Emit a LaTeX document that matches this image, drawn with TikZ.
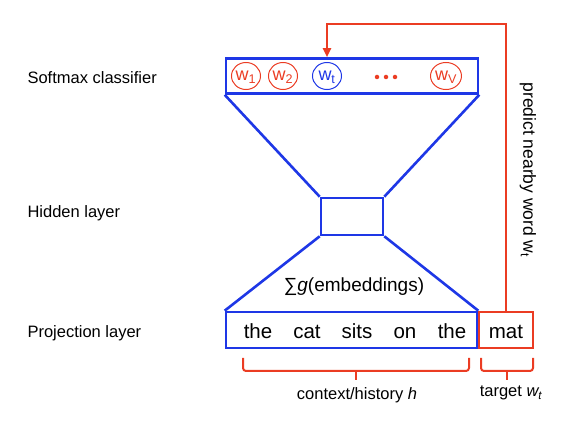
\documentclass[tikz,border=0pt]{standalone}
\usepackage{fontspec}
\setmainfont{Liberation Sans}
\usetikzlibrary{arrows.meta,shapes.geometric}
\definecolor{netblue}{RGB}{30,55,230}
\definecolor{netred}{RGB}{235,60,35}
\newcommand{\wsub}[1]{w\smash{\textsubscript{#1}}}
\tikzset{
	layerbox/.style={draw=netblue, line width=2.6pt, rectangle, inner sep=0pt},
	wordnode/.style={ellipse, draw, line width=1pt, inner sep=0pt, minimum width=25pt, minimum height=27pt, font=\fontsize{18}{20}\selectfont},
	dotnode/.style={circle, fill=netred, inner sep=0pt, minimum size=4.5pt},
	redline/.style={draw=netred, line width=2pt},
	layerlabel/.style={anchor=west, font=\fontsize{16.5}{19}\selectfont}
}
\begin{document}
\begin{tikzpicture}[x=1pt, y=-1pt]
	\useasboundingbox (0,0) rectangle (566,425);

	% layer names
	\node[layerlabel] (softlabel) at (24,78) {Softmax classifier};
	\node[layerlabel] (hidlabel) at (24,213) {Hidden layer};
	\node[layerlabel] (projlabel) at (24,333) {Projection layer};

	% boxes
	\node[layerbox, minimum width=252pt, minimum height=35pt] (soft) at (352,76) {};
	\node[layerbox, minimum width=62pt, minimum height=37pt] (hid) at (352,216.5) {};
	\node[layerbox, minimum width=251pt, minimum height=36pt] (proj) at (351.5,330) {};
	\node[redline, rectangle, minimum width=54pt, minimum height=36pt, inner sep=0pt] (mat) at (506,330) {};

	\draw[netblue, line width=2.6pt] (soft.south west) -- (hid.north west);
	\draw[netblue, line width=2.6pt] (soft.south east) -- (hid.north east);
	\draw[netblue, line width=2.6pt] (hid.south west) -- (proj.north west);
	\draw[netblue, line width=2.6pt] (hid.south east) -- (proj.north east);

	% output words
	\node[wordnode, netred] (w1) at (246,76) {\wsub{1}};
	\node[wordnode, netred] (w2) at (283,76) {\wsub{2}};
	\node[wordnode, netblue, minimum width=29pt] (wt) at (327,76) {\wsub{t}};
	\foreach \xpos/\name in {377/dot1, 386/dot2, 395/dot3}
		\node[dotnode] (\name) at (\xpos,77) {};
	\node[wordnode, netred, minimum width=29pt] (wv) at (446,76) {\wsub{V}};

	% input words
	\foreach \word/\xpos/\name in {the/258/in1, cat/307/in2, sits/357/in3, on/405/in4, the/452/in5}
		\node[anchor=base, font=\fontsize{20.5}{23}\selectfont] (\name) at (\xpos,338) {\word};
	\node[anchor=base, font=\fontsize{20.5}{23}\selectfont] (matword) at (506,338) {mat};
	\node[font=\fontsize{19}{22}\selectfont] (embed) at (354,287) {\symbol{"2211}\textit{g}(embeddings)};

	% prediction arrow
	\coordinate (turn) at (506,24);
	\draw[redline, -{Triangle[length=9pt, width=8pt]}] (mat.north) -- (turn) -| (wt |- soft.north);
	\node[rotate=-90, font=\fontsize{17.5}{20}\selectfont] (predict) at (528,170) {predict nearby word w\textsubscript{t}};

	% braces
	\draw[redline, rounded corners=3pt] (243,358) -- (243,371) -- (469,371) -- (469,358);
	\draw[redline] (356,371) -- (356,380);
	\draw[redline, rounded corners=3pt] (481,358) -- (481,371) -- (533,371) -- (533,358);
	\draw[redline] (507,371) -- (507,380);
	\node[font=\fontsize{16.5}{19}\selectfont] (context) at (357,395) {context/history \textit{h}};
	\node[font=\fontsize{16.5}{19}\selectfont] (target) at (511,393) {target \textit{w\textsubscript{t}}};
\end{tikzpicture}
\end{document}
